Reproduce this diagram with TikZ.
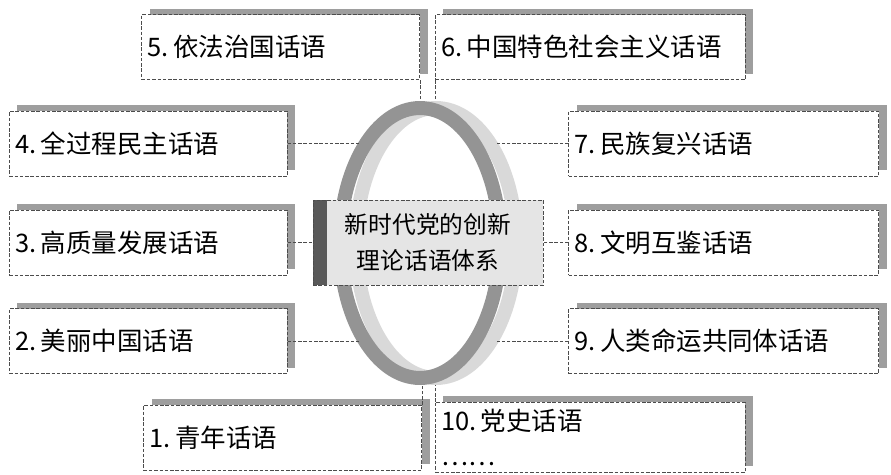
\documentclass[tikz,border=0pt]{standalone}
\usepackage{fontspec}
\newfontfamily\cjk{Noto Sans CJK SC}
\usetikzlibrary{positioning, shadows, shapes.geometric}

\begin{document}
\begin{tikzpicture}[
    x=0.02cm, y=-0.02cm,
    node distance=0.66cm and 0.5cm,
    box/.style={draw=black!70, dash pattern=on 2pt off 1pt, fill=white, minimum height=1.3cm, inner xsep=0.12cm, text width=#1, align=left, font=\cjk\fontsize{14.5}{20}\selectfont, general shadow={fill=black!38, shadow xshift=0.16cm, shadow yshift=0.12cm}},
    box/.default=5.32cm,
    wide/.style={box=5.96cm},
    hub/.style={draw=black!70, dash pattern=on 2pt off 1pt, fill=black!10, minimum width=4.6cm, minimum height=1.7cm, align=center, font=\cjk\fontsize{13.5}{20.5}\selectfont, path picture={\fill[black!65] (path picture bounding box.north west) rectangle ([xshift=0.28cm]path picture bounding box.south west);}},
    band/.style={line width=0.28cm},
    link/.style={draw=black!70, dash pattern=on 2pt off 1pt}
]
\useasboundingbox (0,0) rectangle (891,474);

% Ring and hub
\node[ellipse, minimum width=3.8cm, minimum height=5.68cm, inner sep=0pt] (ring) at (428,243) {};
\draw[band, black!15] ([xshift=0.16cm]ring.center) ellipse (1.6cm and 2.7cm);
\draw[band, black!42] ([xshift=-0.16cm]ring.center) ellipse (1.6cm and 2.7cm);
\node[hub] (core) at (428,242.5) {新时代党的创新\\理论话语体系};

% Side boxes
\node[box, left=of core] (disc3) {3.\,高质量发展话语};
\node[box, above=of disc3] (disc4) {4.\,全过程民主话语};
\node[box, below=of disc3] (disc2) {2.\,美丽中国话语};
\node[wide, right=of core] (disc8) {8.\,文明互鉴话语};
\node[wide, above=of disc8] (disc7) {7.\,民族复兴话语};
\node[wide, below=of disc8] (disc9) {9.\,人类命运共同体话语};

% Top and bottom boxes
\node[box, anchor=south east] (disc5) at (420,80) {5.\,依法治国话语};
\node[wide, anchor=south west] (disc6) at (435,80) {6.\,中国特色社会主义话语};
\node[box, anchor=north east] (disc1) at (422,405) {1.\,青年话语};
\node[wide, anchor=north west, minimum height=1.4cm] (disc10) at (435,402) {10.\,党史话语\\……};

% Edges
\draw[link] (disc4.east) -- (disc4.east -| ring.125);
\draw[link] (disc7.west) -- (disc7.west -| ring.55);
\draw[link] (disc3.east) -- (core.west);
\draw[link] (disc8.west) -- (core.east);
\draw[link] (disc2.east) -- (disc2.east -| ring.235);
\draw[link] (disc9.west) -- (disc9.west -| ring.305);
\draw[link] (disc5.south east) -- (disc5.south east |- ring.north);
\draw[link] (disc6.south west) -- (disc6.south west |- ring.north);
\draw[link] (disc1.north east) -- (disc1.north east |- ring.south);
\draw[link] (disc10.north west) -- (disc10.north west |- ring.south);

\end{tikzpicture}
\end{document}
